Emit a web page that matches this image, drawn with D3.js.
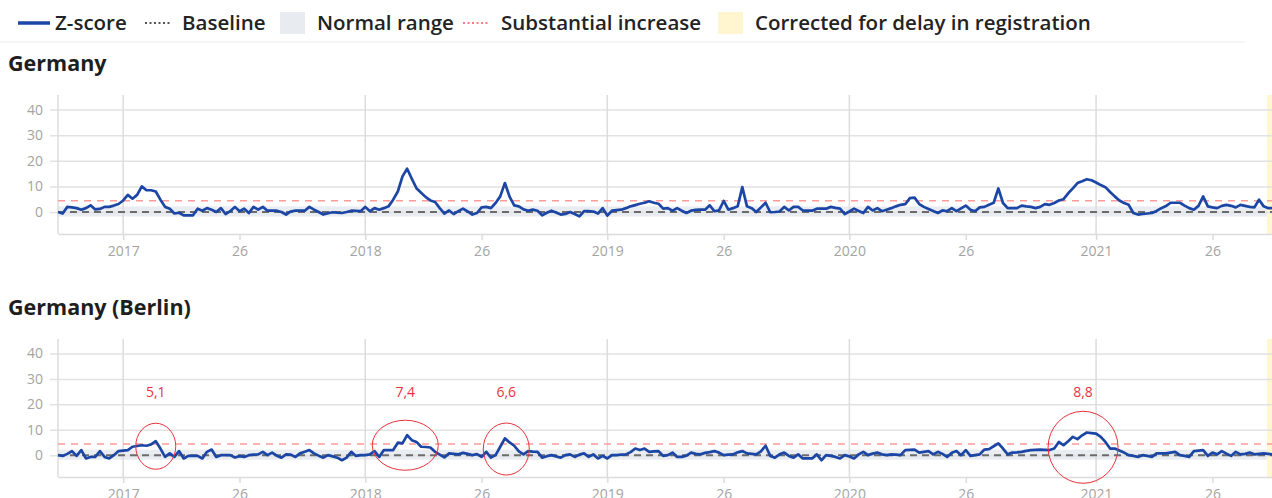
<!DOCTYPE html>
<html>
<head>
<meta charset="utf-8">
<script src="https://cdnjs.cloudflare.com/ajax/libs/d3/7.8.5/d3.min.js"></script>
<style>
    body { margin: 0; background: #fff; }
    svg { display: block; font-family: 'Open Sans', sans-serif; }
</style>
</head>
<body>
<svg></svg>
<script>
// one value per ISO week, index 0 = week 39 of 2016
let germany = [
    0, -0.6, 2, 1.8, 1.5, 0.9, 1.5, 2.6, 1, 1.2, 2, 2, 2.5, 3.1, 4.5, 6.7, 5.2, 6.7, 10, 8.5,
    8.5, 8, 4.8, 2, 1.3, -0.6, -0.3, -1.3, -1.3, -1.3, 1.3, 0.5, 1.5, 0.9, 0, 1.5, -0.8, 0.3, 2, 0.3,
    1.3, -0.4, 2, 0.9, 2, 0.5, 0.5, 0.5, 0, -1, 0.2, 0.5, 0.5, 0.5, 2, 0.9, 0, -1, -0.5, -0.1,
    -0.3, -0.4, 0, 0.5, 0.4, 0.3, 2, 0.3, 1.5, 0.9, 1.5, 2.2, 4.8, 8, 13.9, 16.9, 13, 9.3, 7.5, 5.8,
    4.5, 3.9, 1.5, -0.6, 0.6, -0.8, 0.3, 1.3, 0.2, -1, -0.4, 1.8, 2, 1.5, 3.5, 6.1, 11.3, 6, 2.6, 2.2,
    1, 0.5, 0.9, 0.5, -1.3, -0.3, 0.5, -0.2, -1, -0.8, 0, -0.8, -1.7, 0.3, 0.3, 0.2, -0.6, 1.5, -1.4, 0.5,
    0.7, 0.9, 1.5, 2.2, 2.7, 3.2, 3.6, 4.2, 3.6, 3.2, 1.3, 1.5, 0.5, 1.5, 0.5, -0.4, 0.5, 0.8, 0.9, 0.9,
    2.6, 0.3, 0.6, 4.3, 0.9, 1.5, 2.2, 9.7, 2.2, 1.5, 0, 1.8, 3.6, -0.1, 0, 0.2, 2, 0.6, 2, 2,
    0.6, 0.5, 0.5, 1.3, 1.3, 1.3, 2, 1.6, 1.3, -0.8, 0.2, 1.3, 0.4, -0.4, 2, 0.6, 1.5, 0.3, 0.9, 1.5,
    2.2, 2.8, 3.1, 5.4, 5.6, 3.1, 2, 1.2, 0.4, -0.4, 0.6, 0.3, 1.5, 0.3, 1.4, 2.5, 0.9, 0.3, 1.8, 2,
    2.8, 3.6, 9.2, 3.5, 1.5, 1.5, 1.5, 2.5, 2.2, 2, 1.5, 2, 3.1, 2.8, 3.5, 4.5, 5, 7.3, 9.2, 11.3,
    12, 12.8, 12.4, 11.5, 10.5, 9.7, 7.8, 6.1, 4.5, 3.5, 2.8, -0.4, -1, -0.8, -0.6, -0.4, 0.4, 1.5, 2.3, 3.6,
    3.6, 3.6, 2.5, 1.5, 0.9, 2.4, 6.1, 2.2, 1.8, 1.5, 2.4, 2.8, 2.4, 1.8, 2.8, 2.4, 2, 1.8, 4.8, 2.2,
    1.5, 1.5
]

let berlin = [
    0, -0.3, 0.5, 1.6, -0.3, 2, -1.3, -0.7, -0.7, 1.6, -0.7, -1.3, 0, 1.6, 1.8, 2, 3.3, 3.6, 3.9, 3.7,
    4.2, 5.5, 2.6, -0.7, 0.7, -0.7, 1.6, -1.3, -0.3, -0.3, -0.3, -1.3, 1.3, 2.2, -0.7, 0, 0, 0, -0.9, -0.4,
    -0.7, 0, 0.2, 0.3, 1.3, 0, 1, -0.2, -1, 0.3, 0.2, -0.7, 0.7, 1.3, 2, 0.7, -0.2, -1, 0, -0.5,
    -1, -2, -1, 1.3, -0.3, 0, 0, 0.3, 1.6, -0.7, 2, 2, 2, 4.9, 4.6, 7.9, 5.9, 5.2, 3.3, 3.2,
    3, 1.3, 0.2, -0.9, 0.7, 0.5, 0.3, 0.9, 0.5, 0, 0.4, -0.7, 1.3, -1, 0, 3.3, 6.6, 5, 3.7, 1.5,
    0.3, 1.6, 1.4, 1.3, -1, -0.4, 0, -0.5, -1, 0, 0.3, -0.7, 0.2, 0.7, -0.7, 0.3, -1.3, -0.3, -1.3, 0,
    0, 0.2, 0.3, 1.2, 2.6, 2, 2.6, 1.3, 1.5, 1.6, -0.3, 0, 1, -0.7, -0.7, -0.2, 1, 0.5, 0.3, 0.9,
    1.2, 1.6, 1, 0, 0.2, 0.3, 1.1, 1.6, 0.7, 0.5, 0.3, 1.5, 3.7, -0.3, -1, 0.3, 1, -0.3, -1, 0.3,
    -1.3, -1.3, -1.3, 0.3, -2, 0, -0.3, -0.7, -1.3, 0, -0.5, -1.3, 0.3, 1.3, 0, 0.6, 1, 0.3, 0, 0.3,
    0.2, 0, 2, 2.1, 2.2, 1, 1.3, 1.6, 0.3, 1.3, 0.5, -0.7, 0.9, 1.6, 0, 2, -0.3, 0, 0.3, 2.2,
    2.4, 3.5, 4.6, 2.6, 0.3, 1, 1.1, 1.3, 1.7, 2, 2.1, 2.2, 2.1, 2, 2.6, 5.2, 3.9, 5.5, 7.2, 6.3,
    7.8, 8.9, 8.7, 8.5, 7.2, 5.2, 2.6, 2.6, 1.8, 1, 0, -0.3, -0.7, 0, -0.3, -0.7, 0.7, 0.7, 0.7, 1,
    1.3, 0, -0.3, -0.7, 1.6, 1.8, 2, -0.3, 1, 0.3, 1.6, 0.6, -0.3, 1.3, 0.3, 0.5, 1, 0.3, 0.5, 0.7,
    0.5, 0.3
]

// x ticks: week 1 of each year and week 26
let tickWeeks = [14, 39, 66, 91, 118, 143, 170, 195, 223, 248]
let tickLabels = ['2017', '26', '2018', '26', '2019', '26', '2020', '26', '2021', '26']
let yearWeeks = [14, 66, 118, 170, 223]
let yTicks = [0, 10, 20, 30, 40]

let baselineValue = 0
let normalRange = [-1.8, 2.2]
let substantialIncrease = 4.4
let correctedFromWeek = 259.7

// hand written notes on the Berlin panel
let noteWeeks = [21, 74.6, 96.3, 220.2]
let noteLabels = ['5,1', '7,4', '6,6', '8,8']

let width = 1272
let height = 498

let svg = d3.select('svg')
    .attr('width', width)
    .attr('height', height)

let xScale = d3.scaleLinear()
    .domain([0, 261])
    .range([58, 1273])

let drawLegend = () => {
    let g = svg.append('g')
    let txt = (x, s) => g.append('text').attr('x', x).attr('y', 30)
        .attr('font-size', 20.5).attr('font-weight', 600).attr('fill', '#232323').text(s)

    g.append('line').attr('x1', 18).attr('x2', 50).attr('y1', 23).attr('y2', 23)
        .attr('stroke', '#1c46a5').attr('stroke-width', 3.5)
    txt(55, 'Z-score')
    g.append('line').attr('x1', 145).attr('x2', 172).attr('y1', 23).attr('y2', 23)
        .attr('stroke', '#555').attr('stroke-width', 2).attr('stroke-dasharray', '2,2.5')
    txt(182, 'Baseline')
    g.append('rect').attr('x', 280).attr('y', 12).attr('width', 25).attr('height', 22).attr('fill', '#e8ecf1')
    txt(317, 'Normal range')
    g.append('line').attr('x1', 463).attr('x2', 490).attr('y1', 23).attr('y2', 23)
        .attr('stroke', '#f27c87').attr('stroke-width', 2).attr('stroke-dasharray', '2,2.5')
    txt(501, 'Substantial increase')
    g.append('rect').attr('x', 718).attr('y', 12).attr('width', 25).attr('height', 22).attr('fill', '#fff5cf')
    txt(755, 'Corrected for delay in registration')

    // faint separator under the legend
    svg.append('line').attr('x1', 0).attr('x2', 1245).attr('y1', 42).attr('y2', 42)
        .attr('stroke', '#f3f3f3').attr('stroke-width', 1.5)
}

let drawPanel = (panel) => {
    let yScale = d3.scaleLinear()
        .domain([-8.6, 45.7])
        .range([panel.bottom, panel.top])

    let g = svg.append('g')

    g.append('text')
        .attr('x', 8).attr('y', panel.titleY)
        .attr('font-size', 21.5).attr('font-weight', 700).attr('fill', '#1e1e1e')
        .text(panel.title)

    // corrected weeks and normal range bands
    g.append('rect')
        .attr('x', xScale(correctedFromWeek)).attr('y', panel.top)
        .attr('width', width).attr('height', panel.bottom - panel.top)
        .attr('fill', '#fff6d2')
    g.append('rect')
        .attr('x', xScale(0)).attr('y', yScale(normalRange[1]))
        .attr('width', xScale(correctedFromWeek) - xScale(0))
        .attr('height', yScale(normalRange[0]) - yScale(normalRange[1]))
        .attr('fill', '#e9edf2')

    // y axis with grid lines across the plot
    let yAxis = d3.axisLeft(yScale)
        .tickValues(yTicks)
        .tickSizeInner(-(width - 58))
        .tickSizeOuter(0)
        .tickPadding(15)
    let yg = g.append('g')
        .attr('transform', 'translate(58, 0)')
        .call(yAxis)
    yg.select('.domain').remove()
    yg.selectAll('.tick line').attr('x1', -8).attr('stroke', '#e2e2e2').attr('stroke-width', 1.5)
    yg.selectAll('.tick text').attr('font-size', 14).attr('fill', '#a3a3a3')
        .attr('font-family', "'Open Sans', sans-serif")

    // vertical grid lines at each new year, plus the left edge
    g.selectAll('.yearline')
        .data(yearWeeks)
        .enter()
        .append('line')
        .attr('x1', (d) => xScale(d)).attr('x2', (d) => xScale(d))
        .attr('y1', panel.top).attr('y2', panel.bottom)
        .attr('stroke', '#dcdcdc').attr('stroke-width', 1.5)
    g.append('line')
        .attr('x1', 58).attr('x2', 58).attr('y1', panel.top).attr('y2', panel.bottom)
        .attr('stroke', '#dcdcdc').attr('stroke-width', 1.5)

    let xAxis = d3.axisBottom(xScale)
        .tickValues(tickWeeks)
        .tickFormat((d, i) => tickLabels[i])
        .tickSizeInner(6)
        .tickSizeOuter(0)
        .tickPadding(6)
    let xg = g.append('g')
        .attr('transform', 'translate(0, ' + panel.bottom + ')')
        .call(xAxis)
    xg.select('.domain').attr('stroke', '#dcdcdc').attr('stroke-width', 1.5)
    xg.selectAll('.tick line').attr('stroke', '#dcdcdc').attr('stroke-width', 1.5)
    xg.selectAll('.tick text').attr('font-size', 14).attr('fill', '#a3a3a3')
        .attr('font-family', "'Open Sans', sans-serif")

    // threshold lines
    g.append('line')
        .attr('x1', xScale(0)).attr('x2', width)
        .attr('y1', yScale(substantialIncrease)).attr('y2', yScale(substantialIncrease))
        .attr('stroke', '#ff9a9a').attr('stroke-width', 1.6).attr('stroke-dasharray', '7,6')
    g.append('line')
        .attr('x1', xScale(0)).attr('x2', width)
        .attr('y1', yScale(baselineValue)).attr('y2', yScale(baselineValue))
        .attr('stroke', '#6b6b6b').attr('stroke-width', 2).attr('stroke-dasharray', '7,5')

    let line = d3.line()
        .x((d, i) => xScale(i))
        .y((d) => yScale(d))
    g.append('path')
        .datum(panel.values)
        .attr('d', line)
        .attr('fill', 'none')
        .attr('stroke', '#1c46a5')
        .attr('stroke-width', 2.7)
        .attr('stroke-linejoin', 'round')

    return yScale
}

let drawNotes = (yScale) => {
    // circle sizes in pixels, one per note
    let rx = [20, 33, 23, 35]
    let ry = [23, 25, 26, 36]
    let cy = [3.5, 3.9, 2.4, 3.1]
    let g = svg.append('g')
    g.selectAll('ellipse')
        .data(noteWeeks)
        .enter()
        .append('ellipse')
        .attr('cx', (d) => xScale(d))
        .attr('cy', (d, i) => yScale(cy[i]))
        .attr('rx', (d, i) => rx[i])
        .attr('ry', (d, i) => ry[i])
        .attr('fill', 'none')
        .attr('stroke', '#e8323c')
        .attr('stroke-width', 1)
    g.selectAll('text')
        .data(noteWeeks)
        .enter()
        .append('text')
        .attr('x', (d) => xScale(d))
        .attr('y', yScale(24.8))
        .attr('dy', '0.35em')
        .attr('text-anchor', 'middle')
        .attr('font-size', 14)
        .attr('fill', '#e8323c')
        .text((d, i) => noteLabels[i])
}

drawLegend()
drawPanel({ title: 'Germany', values: germany, titleY: 71, top: 95, bottom: 234 })
let berlinY = drawPanel({ title: 'Germany (Berlin)', values: berlin, titleY: 315, top: 339, bottom: 477 })
drawNotes(berlinY)
</script>
</body>
</html>
